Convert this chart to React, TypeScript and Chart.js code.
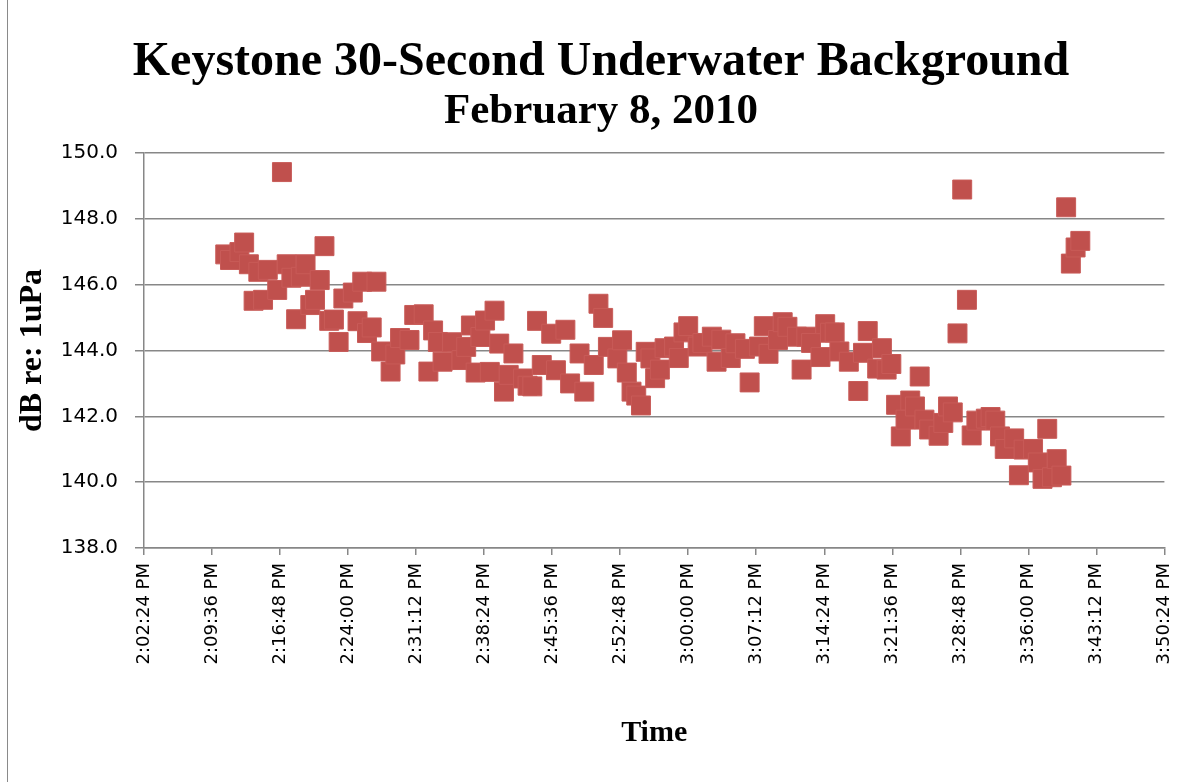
import { useEffect, useRef } from "react";
import { Chart, registerables } from "chart.js";

Chart.register(...registerables);

const titleText = "Keystone 30-Second Underwater Background";
const subtitleText = "February 8, 2010";
const xAxisTitle = "Time";
const yAxisTitle = "dB re: 1uPa";

const xTickLabels = [
  "2:02:24 PM", "2:09:36 PM", "2:16:48 PM", "2:24:00 PM", "2:31:12 PM", "2:38:24 PM",
  "2:45:36 PM", "2:52:48 PM", "3:00:00 PM", "3:07:12 PM", "3:14:24 PM", "3:21:36 PM",
  "3:28:48 PM", "3:36:00 PM", "3:43:12 PM", "3:50:24 PM",
];

const times = [
  "2:11:00", "2:11:30", "2:12:30", "2:13:00", "2:13:30", "2:14:00", "2:14:30", "2:15:00", "2:15:30", "2:16:30",
  "2:17:00", "2:17:30", "2:18:00", "2:18:30", "2:19:00", "2:19:30", "2:20:00", "2:20:30", "2:21:00", "2:21:30",
  "2:22:00", "2:22:30", "2:23:00", "2:23:30", "2:24:30", "2:25:00", "2:25:30", "2:26:00", "2:26:30", "2:27:00",
  "2:27:30", "2:28:30", "2:29:00", "2:29:30", "2:30:30", "2:31:00", "2:32:00", "2:32:30", "2:33:00", "2:33:30",
  "2:34:00", "2:35:00", "2:36:00", "2:36:30", "2:37:00", "2:37:30", "2:38:00", "2:38:30", "2:39:00", "2:39:30",
  "2:40:00", "2:40:30", "2:41:00", "2:41:30", "2:42:30", "2:43:00", "2:43:30", "2:44:00", "2:44:30", "2:45:30",
  "2:46:00", "2:47:00", "2:47:30", "2:48:30", "2:49:00", "2:50:00", "2:50:30", "2:51:00", "2:51:30", "2:52:30",
  "2:53:00", "2:53:30", "2:54:00", "2:54:30", "2:55:00", "2:55:30", "2:56:00", "2:56:30", "2:57:00", "2:57:30",
  "2:58:30", "2:59:00", "2:59:30", "3:00:00", "3:01:00", "3:01:30", "3:02:30", "3:03:00", "3:03:30", "3:04:30",
  "3:05:00", "3:06:00", "3:06:30", "3:07:30", "3:08:00", "3:08:30", "3:09:30", "3:10:00", "3:10:30", "3:11:30",
  "3:12:00", "3:12:30", "3:13:00", "3:14:00", "3:14:30", "3:15:00", "3:15:30", "3:16:00", "3:17:00", "3:18:00",
  "3:18:30", "3:19:00", "3:20:00", "3:20:30", "3:21:00", "3:21:30", "3:22:00", "3:22:30", "3:23:00", "3:23:30",
  "3:24:00", "3:24:30", "3:25:00", "3:25:30", "3:26:30", "3:27:00", "3:27:30", "3:28:00", "3:28:30", "3:29:00",
  "3:29:30", "3:30:00", "3:30:30", "3:31:30", "3:32:00", "3:32:30", "3:33:00", "3:33:30", "3:34:30", "3:35:00",
  "3:35:30", "3:36:30", "3:37:00", "3:37:30", "3:38:00", "3:38:30", "3:39:00", "3:39:30", "3:40:00", "3:40:30",
  "3:41:00", "3:41:30",
];

const levels = [
  146.92, 146.75, 146.99, 147.28, 146.62, 145.51, 146.39, 145.54, 146.45, 145.84,
  149.42, 146.62, 146.21, 144.95, 146.24, 146.62, 145.38, 145.54, 146.14, 147.17,
  144.90, 144.94, 144.26, 145.58, 145.76, 144.89, 146.09, 144.53, 144.70, 146.09,
  143.97, 143.36, 143.88, 144.38, 144.32, 145.08, 145.10, 143.36, 144.61, 144.26,
  143.66, 144.25, 143.71, 144.11, 144.76, 143.33, 144.41, 144.91, 143.35, 145.21,
  144.21, 142.75, 143.26, 143.91, 143.15, 142.93, 142.91, 144.90, 143.56, 144.51,
  143.40, 144.63, 143.00, 143.91, 142.75, 143.56, 145.42, 144.99, 144.11, 143.76,
  144.31, 143.33, 142.75, 142.63, 142.33, 143.96, 143.76, 143.16, 143.42, 144.07,
  144.12, 143.77, 144.55, 144.74, 144.12, 144.23, 144.42, 143.66, 144.33, 143.77,
  144.22, 144.05, 143.03, 144.12, 144.74, 143.90, 144.32, 144.86, 144.72, 144.42,
  143.42, 144.42, 144.23, 143.80, 144.80, 144.54, 144.55, 143.97, 143.66, 142.77,
  143.93, 144.59, 143.45, 144.07, 143.42, 143.59, 142.35, 141.39, 141.90, 142.48,
  142.30, 143.21, 141.90, 141.60, 141.41, 141.80, 142.30, 142.12, 144.52, 148.89,
  145.54, 141.42, 141.87, 141.93, 141.98, 141.87, 141.39, 141.01, 141.33, 140.21,
  140.99, 141.01, 140.60, 140.10, 141.62, 140.15, 140.70, 140.20, 148.35, 146.64,
  147.13, 147.33,
];

const xStart = "2:02:24";
const xEnd = "3:50:24";
const xStepSeconds = 432;
const yMin = 138;
const yMax = 150;
const yStep = 2;

const toSeconds = (t: string) => {
  const [h, m, s] = t.split(":").map(Number);
  return ((h % 12) + 12) * 3600 + m * 60 + s;
};

const serif = "'Liberation Serif', 'Times New Roman', serif";
const sans = "'DejaVu Sans', sans-serif";
const gridColor = "#878787";

export default function App() {
  const ref = useRef<HTMLCanvasElement>(null);

  useEffect(() => {
    const points = times.map((t, i) => ({ x: toSeconds(t), y: levels[i] }));
    const chart = new Chart(ref.current!, {
      type: "scatter",
      data: {
        datasets: [
          {
            data: points,
            pointStyle: "rect",
            pointRadius: 13.4,
            pointHoverRadius: 13.4,
            backgroundColor: "#C0504D",
            borderColor: "#C85B58",
            borderWidth: 1,
            showLine: false,
          },
        ],
      },
      options: {
        responsive: false,
        animation: false,
        devicePixelRatio: 1,
        events: [],
        layout: { padding: { left: 8, right: 0, top: 0, bottom: 0 } },
        plugins: {
          legend: { display: false },
          tooltip: { enabled: false },
          title: {
            display: true,
            text: titleText,
            color: "#000",
            font: { family: serif, size: 48, weight: "bold", lineHeight: 1 },
            padding: { top: 39, bottom: 0 },
          },
          subtitle: {
            display: true,
            text: subtitleText,
            color: "#000",
            font: { family: serif, size: 43, weight: "bold", lineHeight: 1 },
            padding: { top: 3, bottom: 20 },
          },
        },
        scales: {
          x: {
            type: "linear",
            min: toSeconds(xStart),
            max: toSeconds(xEnd),
            afterFit: (s: any) => {
              s.height = 234;
            },
            ticks: {
              stepSize: xStepSeconds,
              autoSkip: false,
              maxRotation: 90,
              minRotation: 90,
              padding: 8,
              color: "#000",
              font: { family: sans, size: 18 },
              callback: (_v: any, i: number) => xTickLabels[i],
            },
            grid: {
              drawOnChartArea: false,
              drawTicks: true,
              tickLength: 7,
              color: gridColor,
              lineWidth: 1.5,
            },
            border: { display: true, color: gridColor, width: 1.5 },
            title: {
              display: true,
              text: xAxisTitle,
              color: "#000",
              font: { family: serif, size: 30, weight: "bold", lineHeight: 1.2 },
              padding: { top: 0, bottom: 31 },
            },
          },
          y: {
            min: yMin,
            max: yMax,
            afterFit: (s: any) => {
              s.width = 136;
            },
            ticks: {
              stepSize: yStep,
              padding: 17,
              color: "#000",
              font: { family: sans, size: 20 },
              callback: (v: any) => Number(v).toFixed(1),
            },
            grid: {
              color: gridColor,
              lineWidth: 1.5,
              drawTicks: true,
              tickLength: 9,
            },
            border: { display: true, color: gridColor, width: 1.5 },
            title: {
              display: true,
              text: yAxisTitle,
              color: "#000",
              font: { family: serif, size: 32, weight: "bold", lineHeight: 1.2 },
              padding: { top: 6, bottom: 0 },
            },
          },
          yRightSpace: {
            position: "right",
            display: true,
            grid: { display: false, drawTicks: false },
            border: { display: false },
            ticks: { display: false },
            afterFit: (s: any) => {
              s.width = 26;
            },
          },
        },
      },
    });
    return () => chart.destroy();
  }, []);

  return (
    <div style={{ position: "absolute", left: 0, top: 0, width: 1194, height: 782, background: "#fff" }}>
      <canvas ref={ref} width={1194} height={782} style={{ display: "block" }} />
      <div style={{ position: "absolute", left: 7, top: 0, width: 1, height: 782, background: "#8a8a8a" }} />
    </div>
  );
}
